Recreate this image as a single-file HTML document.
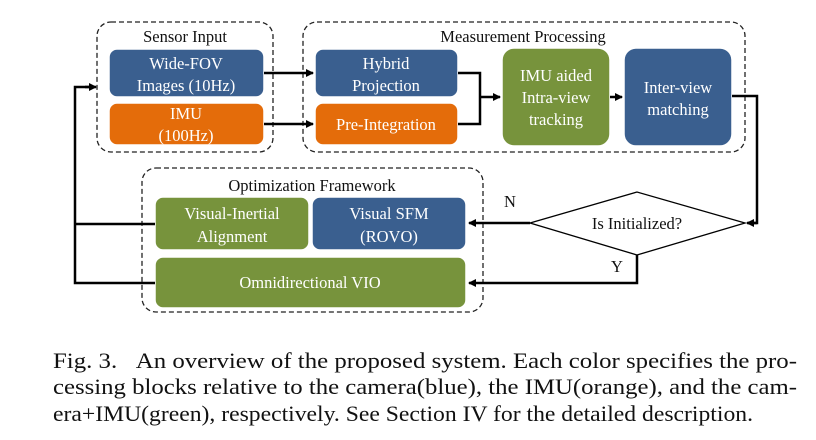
<!DOCTYPE html>
<html><head><meta charset="utf-8"><style>
html,body{margin:0;padding:0;background:#fff;}
svg{display:block;}
text{font-family:"Liberation Serif","Times New Roman",serif;}
</style></head><body>
<svg width="816" height="440" viewBox="0 0 816 440" xmlns="http://www.w3.org/2000/svg">
<defs>
<marker id="a" markerWidth="8" markerHeight="8" refX="7" refY="4" orient="auto" markerUnits="userSpaceOnUse">
<path d="M0,0 L8,4 L0,8 Z" fill="#000"/></marker>
</defs>
<g fill="none" stroke="#222" stroke-width="1.3" stroke-dasharray="5,3">
<rect x="97" y="22" width="176" height="130" rx="14"/>
<rect x="303" y="22" width="442" height="130" rx="14"/>
<rect x="142" y="168" width="341" height="144" rx="14"/>
</g>
<g stroke="#fff" stroke-width="1.5">
<rect x="109" y="49" width="155" height="48" rx="8" fill="#3a5f8f"/>
<rect x="109" y="103" width="155" height="42" rx="8" fill="#e46c0a"/>
<rect x="315" y="49" width="143" height="48" rx="8" fill="#3a5f8f"/>
<rect x="315" y="103" width="143" height="42" rx="8" fill="#e46c0a"/>
<rect x="502" y="48" width="108" height="98" rx="12" fill="#77933c"/>
<rect x="624" y="48" width="108" height="98" rx="12" fill="#3a5f8f"/>
<rect x="155" y="197" width="154" height="53" rx="8" fill="#77933c"/>
<rect x="312" y="197" width="154" height="53" rx="8" fill="#3a5f8f"/>
<rect x="155" y="257" width="311" height="51" rx="8" fill="#77933c"/>
</g>
<polygon points="530,223 637,192 745,223 637,255" fill="#fff" stroke="#000" stroke-width="1.3"/>
<g fill="none" stroke="#000" stroke-width="2.5">
<line x1="264" y1="73" x2="313" y2="73" marker-end="url(#a)"/>
<line x1="264" y1="124" x2="313" y2="124" marker-end="url(#a)"/>
<polyline points="458,73 480,73 480,124 458,124"/>
<line x1="480" y1="97" x2="500" y2="97" marker-end="url(#a)"/>
<line x1="610" y1="97" x2="622" y2="97" marker-end="url(#a)"/>
<polyline points="732,96 757,96 757,223 748,223"/>
<line x1="757" y1="223" x2="747" y2="223" marker-end="url(#a)"/>
<line x1="530" y1="223" x2="469" y2="223" marker-end="url(#a)"/>
<polyline points="637,255 637,283 480,283"/>
<line x1="480" y1="283" x2="469" y2="283" marker-end="url(#a)"/>
<polyline points="155,283 75,283 75,87 90,87"/>
<line x1="75" y1="224" x2="155" y2="224"/>
<line x1="85" y1="87" x2="96" y2="87" marker-end="url(#a)"/>
</g>
<g font-size="16.5" text-anchor="middle" fill="#111">
<text x="185" y="42">Sensor Input</text>
<text x="523" y="42">Measurement Processing</text>
<text x="312" y="191">Optimization Framework</text>
<text x="637" y="229">Is Initialized?</text>
<text x="510" y="207">N</text>
<text x="617" y="272">Y</text>
</g>
<g font-size="16.5" text-anchor="middle" fill="#fff">
<text x="186" y="69">Wide-FOV</text>
<text x="186" y="91">Images (10Hz)</text>
<text x="186" y="119">IMU</text>
<text x="186" y="141">(100Hz)</text>
<text x="386" y="69">Hybrid</text>
<text x="386" y="91">Projection</text>
<text x="386" y="130">Pre-Integration</text>
<text x="556" y="81">IMU aided</text>
<text x="556" y="103">Intra-view</text>
<text x="556" y="125">tracking</text>
<text x="678" y="93">Inter-view</text>
<text x="678" y="115">matching</text>
<text x="232" y="219">Visual-Inertial</text>
<text x="232" y="242">Alignment</text>
<text x="389" y="219">Visual SFM</text>
<text x="389" y="242">(ROVO)</text>
<text x="310" y="288">Omnidirectional VIO</text>
</g>
<g font-size="22" fill="#111">
<text x="53" y="368" textLength="744" lengthAdjust="spacingAndGlyphs">Fig. 3.&#160;&#160;&#160;An overview of the proposed system. Each color specifies the pro-</text>
<text x="53" y="394" textLength="744" lengthAdjust="spacingAndGlyphs">cessing blocks relative to the camera(blue), the IMU(orange), and the cam-</text>
<text x="53" y="421" textLength="700" lengthAdjust="spacingAndGlyphs">era+IMU(green), respectively. See Section IV for the detailed description.</text>
</g>
</svg>
</body></html>
